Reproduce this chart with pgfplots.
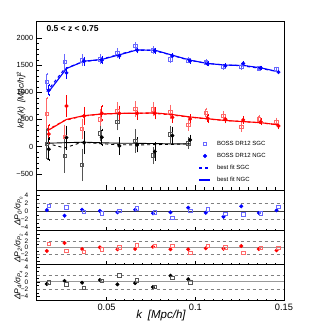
\documentclass[border=0pt]{standalone}
\usepackage{pgfplots}
\pgfplotsset{compat=1.18}
\usepackage{pgfplotstable}
\usepackage{fontspec}
\setmainfont{Liberation Sans}

\definecolor{sgcblue}{RGB}{105,105,255}
\definecolor{sgcred}{RGB}{255,105,105}
\definecolor{sgcblack}{RGB}{85,85,85}

% monopole: kA = NGC (top) / SGC (residual), kB = SGC (top) / NGC (residual)
\pgfplotstableread{
kA kB N eN S eS fN fS rN rS
0.0174 0.0163 1040 90 1193 145 1010 1010 0.30 1.40
0.0274 0.0263 1358 85 1560 125 1438 1430 -1.10 1.00
0.0373 0.0362 1573 60 1591 90 1573 1560 0.40 -0.10
0.0473 0.0462 1591 50 1609 75 1604 1600 0.10 -0.50
0.0572 0.0561 1670 45 1725 65 1690 1690 -0.25 0.10
0.0672 0.0661 1775 40 1853 55 1780 1775 0.40 0.75
0.0772 0.0761 1762 35 1775 50 1775 1775 -0.50 -0.30
0.0871 0.0860 1670 30 1604 45 1683 1690 -0.25 -1.60
0.0971 0.0960 1578 30 1591 40 1591 1595 0.90 0.15
0.1070 0.1059 1523 25 1549 35 1530 1535 -0.35 0.50
0.1170 0.1159 1486 25 1468 35 1500 1505 -1.35 -0.70
0.1270 0.1259 1530 22 1468 30 1495 1490 1.25 -0.75
0.1369 0.1358 1450 20 1439 30 1450 1445 -0.40 -0.50
0.1469 0.1458 1371 20 1426 28 1378 1385 0.25 1.15
}\mono

\pgfplotstableread{
kA kB N eN S eS fN fS rN rS
0.0174 0.0163 230 160 600 290 305 300 -1.00 1.10
0.0274 0.0263 747 180 183 200 500 480 1.45 -1.00
0.0373 0.0362 563 150 325 170 570 560 -0.40 -1.30
0.0473 0.0462 612 130 503 160 600 595 0.10 -0.50
0.0572 0.0561 612 120 655 150 612 610 -0.50 0.10
0.0672 0.0661 612 100 692 130 615 612 -0.40 0.70
0.0772 0.0761 612 90 686 110 620 615 0.30 0.50
0.0871 0.0860 539 80 642 110 590 585 -0.50 0.50
0.0971 0.0960 508 70 398 90 545 545 -0.50 -1.50
0.1070 0.1059 521 60 624 75 512 512 -0.20 0.60
0.1170 0.1159 503 55 563 70 480 482 -0.30 0.10
0.1270 0.1259 490 50 367 70 460 462 0.50 -1.50
0.1369 0.1358 459 45 503 60 440 440 -0.40 -0.10
0.1469 0.1458 380 45 459 55 400 405 -0.80 -0.10
}\quad

\pgfplotstableread{
kA kB N eN S eS fN fS rN rS
0.0174 0.0163 -50 200 50 280 62 60 -0.55 -0.10
0.0274 0.0263 165 200 -171 290 72 -25 0.30 -0.65
0.0373 0.0362 73 190 -336 280 81 80 -0.20 -1.65
0.0473 0.0462 172 140 246 120 70 55 0.55 0.35
0.0572 0.0561 13 140 459 140 62 35 -0.65 1.85
0.0672 0.0661 31 120 105 200 60 30 -0.30 0.45
0.0772 0.0761 -92 150 -165 140 55 35 -1.40 -1.30
0.0871 0.0860 202 145 227 140 50 40 1.75 1.10
0.0971 0.0960 123 75 62 85 50 50 0.75 -0.10
}\hexa

\pgfplotsset{
  ngcmk/.style={only marks, mark=*, mark size=1.8pt, color=#1,
    error bars/y dir=both, error bars/y explicit,
    error bars/error bar style={#1, line width=0.7pt},
    error bars/error mark options={#1, mark size=1.1pt}},
  sgcmk/.style={only marks, mark=square, mark size=1.7pt, color=#1, mark options={line width=0.7pt},
    error bars/y dir=both, error bars/y explicit,
    error bars/error bar style={#1, line width=0.7pt},
    error bars/error mark options={#1, mark size=1.1pt}},
  resmkN/.style={only marks, mark=*, mark size=1.8pt, color=#1},
  resmkS/.style={only marks, mark=square, mark size=1.7pt, color=#1, mark options={line width=0.7pt}},
  common/.style={scale only axis, width=247.3pt, xmin=0.0106, xmax=0.15,
    xtick={0.05,0.1,0.15}, minor x tick num=9,
    tick align=inside, xtick pos=bottom, ytick pos=left,
    major tick length=5pt, minor tick length=2.5pt,
    tick style={black, line width=0.4pt},
    axis line style={black, line width=0.5pt}},
  res/.style={common, ytick={-4,-2,0,2,4}, yticklabels={−4,−2,0,2,4},
    minor y tick num=1, major tick length=3.5pt, minor tick length=2pt,
    yticklabel style={font=\fontsize{6.5}{7}\selectfont, xshift=-5pt}, xticklabels={}},
}

\begin{document}
\begin{tikzpicture}[x=1pt,y=1pt]
% ---------- top panel ----------
\begin{axis}[common,
  at={(36.7pt,137pt)}, anchor=south west, height=168.3pt,
  ymin=-800, ymax=2300,
  xticklabels={},
  ytick={-500,0,500,1000,1500,2000}, yticklabels={−500,0,500,1000,1500,2000},
  minor y tick num=4,
  yticklabel style={font=\fontsize{7.4}{8}\selectfont},
  legend cell align=left,
  legend image code/.code={\draw[mark repeat=2,mark phase=2,#1] plot coordinates {(0pt,0pt) (5.5pt,0pt) (11pt,0pt)};},
  legend style={at={(0.656,0.291)}, anchor=north west, draw=none, fill=none,
    inner sep=0pt, outer sep=0pt,
    font=\fontsize{6}{7}\selectfont, row sep=6pt, column sep=6pt,
    nodes={inner sep=0pt, text height=4.6pt, text depth=1.4pt}},
]
\addplot[sgcmk=sgcblue] table[x=kB, y=S, y error=eS] {\mono};
\addlegendentry{BOSS DR12 SGC}
\addplot[ngcmk=blue] table[x=kA, y=N, y error=eN] {\mono};
\addlegendentry{BOSS DR12 NGC}
\addplot[blue, dashed, line width=1.1pt] table[x=kB, y=fS] {\mono};
\addlegendentry{best fit SGC}
\addplot[blue, line width=1.1pt] table[x=kA, y=fN] {\mono};
\addlegendentry{best fit NGC}

\addplot[forget plot, sgcmk=sgcred] table[x=kB, y=S, y error=eS] {\quad};
\addplot[forget plot, ngcmk=red] table[x=kA, y=N, y error=eN] {\quad};
\addplot[forget plot, red, dashed, line width=1.1pt] table[x=kB, y=fS] {\quad};
\addplot[forget plot, red, line width=1.1pt] table[x=kA, y=fN] {\quad};

\addplot[forget plot, sgcmk=sgcblack] table[x=kB, y=S, y error=eS] {\hexa};
\addplot[forget plot, ngcmk=black] table[x=kA, y=N, y error=eN] {\hexa};
\addplot[forget plot, black, dashed, line width=0.9pt] table[x=kB, y=fS] {\hexa};
\addplot[forget plot, black, line width=0.9pt] table[x=kA, y=fN] {\hexa};
\end{axis}

% ---------- residual P0 ----------
\begin{axis}[res, at={(36.7pt,96.3pt)}, anchor=south west, height=40.7pt,
  ymin=-4.85, ymax=5.33]
\addplot[gray, dashed, forget plot] coordinates {(0.0106,2) (0.15,2)};
\addplot[gray, dashed, forget plot] coordinates {(0.0106,-2) (0.15,-2)};
\addplot[black!75, line width=0.9pt, forget plot] coordinates {(0.0106,0) (0.15,0)};
\addplot[resmkN=blue] table[x=kB, y=rN] {\mono};
\addplot[resmkS=sgcblue] table[x=kA, y=rS] {\mono};
\end{axis}

% ---------- residual P2 ----------
\begin{axis}[res, at={(36.7pt,62.3pt)}, anchor=south west, height=34pt,
  ymin=-5.23, ymax=5.23]
\addplot[gray, dashed, forget plot] coordinates {(0.0106,2) (0.15,2)};
\addplot[gray, dashed, forget plot] coordinates {(0.0106,-2) (0.15,-2)};
\addplot[gray!80, line width=1pt, forget plot] coordinates {(0.0106,0) (0.15,0)};
\addplot[resmkN=red] table[x=kB, y=rN] {\quad};
\addplot[resmkS=sgcred] table[x=kA, y=rS] {\quad};
\end{axis}

% ---------- residual P4 ----------
\begin{axis}[res, at={(36.7pt,26.3pt)}, anchor=south west, height=36pt,
  ymin=-5.16, ymax=4.77,
  xticklabels={0.05,0.1,0.15},
  xticklabel style={font=\fontsize{9.25}{10}\selectfont}]
\addplot[gray, dashed, forget plot] coordinates {(0.0106,2) (0.15,2)};
\addplot[gray, dashed, forget plot] coordinates {(0.0106,-2) (0.15,-2)};
\addplot[gray!80, line width=1pt, forget plot] coordinates {(0.0106,0) (0.15,0)};
\addplot[resmkN=black] table[x=kB, y=rN] {\hexa};
\addplot[resmkS=sgcblack] table[x=kA, y=rS] {\hexa};
\end{axis}

% ---------- labels ----------
\node[font=\fontsize{8.5}{10}\selectfont\bfseries, anchor=west] at (43pt,298pt) {0.5 < z < 0.75};
\node[rotate=90, font=\fontsize{8.3}{9}\selectfont\itshape] at (21pt,227pt)
  {kP\textsubscript{ℓ}(k)\enspace[Mpc/h]\textsuperscript{2}};
\node[rotate=90, font=\fontsize{8.5}{10}\selectfont\itshape] at (18.5pt,116pt)
  {ΔP\textsubscript{0}/σ\textsubscript{P\textsubscript{0}}};
\node[rotate=90, font=\fontsize{8.5}{10}\selectfont\itshape] at (18.5pt,79pt)
  {ΔP\textsubscript{2}/σ\textsubscript{P\textsubscript{2}}};
\node[rotate=90, font=\fontsize{8.5}{10}\selectfont\itshape] at (18.5pt,42pt)
  {ΔP\textsubscript{4}/σ\textsubscript{P\textsubscript{4}}};
\node[font=\fontsize{11.5}{13}\selectfont\itshape] at (161pt,11pt) {k\enspace[Mpc/h]};

\pgfresetboundingbox
\path[use as bounding box] (0pt,0pt) rectangle (316pt,327pt);
\end{tikzpicture}
\end{document}
